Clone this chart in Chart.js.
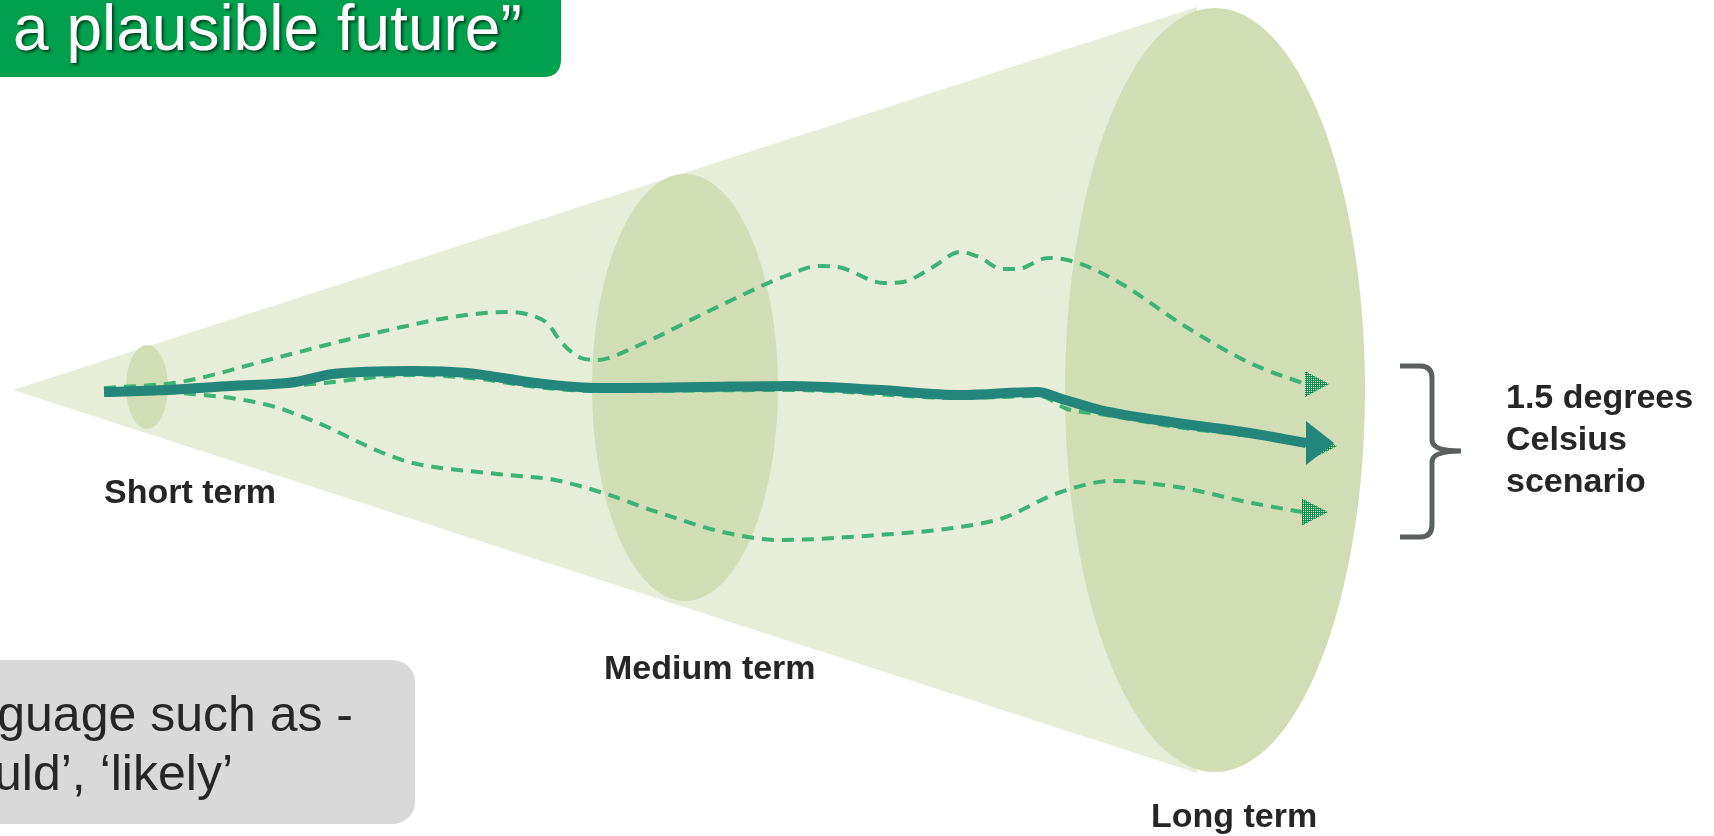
<!DOCTYPE html>
<html>
<head>
<meta charset="utf-8">
<script src="https://cdn.jsdelivr.net/npm/chart.js@4.4.1/dist/chart.umd.min.js"></script>
<style>
  html, body { margin: 0; padding: 0; background: #ffffff; overflow: hidden; }
  #wrap { width: 1714px; height: 836px; position: relative; }
</style>
</head>
<body>
<div id="wrap"><canvas id="c" width="1714" height="836"></canvas></div>
<script>
// ---------------- data (in diagram units) ----------------
const stageLabels    = ['Short term', 'Medium term', 'Long term'];
const scenarioLabel  = ['1.5 degrees', 'Celsius', 'scenario'];
const titleText      = 'a plausible future\u201D';
const noteLines      = ['guage such as -', 'uld\u2019, \u2018likely\u2019'];

// central (1.5 degrees) pathway
const mainX   = [104, 168, 230, 295, 333, 413, 467, 536, 600, 700, 790, 880, 960, 1037, 1062, 1100, 1177, 1250, 1306];
const mainY   = [392, 390, 386, 382, 374, 371, 373, 383, 388, 387, 386, 390, 395, 392, 399, 410, 423, 433, 443];
// dashed pathway hidden under the central one
const middleX = [104, 200, 300, 413, 480, 536, 600, 790, 960, 1040, 1067, 1100, 1177, 1250, 1312];
const middleY = [389, 387, 385, 375, 379, 387, 391, 390, 398, 396, 409, 414, 427, 436, 446];
// upper dashed pathway
const upperX  = [104, 180, 268, 367, 459, 509, 530, 547, 562, 581, 597, 635, 711, 788, 819, 838, 884, 903, 933, 960, 979, 1002, 1017, 1048, 1075, 1120, 1183, 1250, 1305];
const upperY  = [388, 382, 360, 335, 316, 312, 315, 323, 343, 358, 360, 347, 310, 275, 266, 267, 283, 282, 267, 252, 257, 269, 269, 258, 262, 283, 325, 363, 384];
// lower dashed pathway
const lowerX  = [104, 180, 268, 318, 383, 413, 497, 555, 600, 660, 727, 779, 878, 953, 1003, 1058, 1112, 1177, 1252, 1302];
const lowerY  = [391, 393, 405, 423, 453, 463, 474, 480, 492, 513, 533, 540, 535, 528, 518, 493, 481, 487, 503, 512];

// ---------------- styles ----------------
const MAIN_COLOR = '#24867a';
const DASH_COLOR = '#3bb372';
const CONE_COLOR = '#e6eed9';
const DISC_COLOR = '#d1ddb5';
const TEXT_COLOR = '#262626';
const FONT = '"Liberation Sans", Arial, Helvetica, sans-serif';

function pts(xs, ys) { return xs.map((x, i) => ({ x: x, y: ys[i] })); }

const canvas = document.getElementById('c');
const ctx0 = canvas.getContext('2d');

function checkerPattern(ctx) {
  const c = document.createElement('canvas');
  c.width = 4; c.height = 4;
  const g = c.getContext('2d');
  g.fillStyle = '#008f45';
  g.fillRect(0, 0, 4, 4);
  g.fillStyle = '#ffffff';
  g.fillRect(1, 1, 1, 1);
  g.fillRect(3, 3, 1, 1);
  g.fillRect(3, 1, 1, 1);
  g.fillRect(1, 3, 1, 1);
  return ctx.createPattern(c, 'repeat');
}

// geometry of the cone / discs (layout, not data)
const layoutGeom = {
  apex: [13, 390], coneTop: [1197, 7], coneBottom: [1197, 773],
  discs: [[147, 387, 21, 42], [685, 387.5, 93, 213.5], [1215, 390, 150, 382]]
};

const backdrop = {
  id: 'backdrop',
  beforeDatasetsDraw(chart) {
    const ctx = chart.ctx, sx = chart.scales.x, sy = chart.scales.y;
    const X = v => sx.getPixelForValue(v), Y = v => sy.getPixelForValue(v);
    ctx.save();
    // title box (top-left)
    ctx.fillStyle = '#00a04e';
    ctx.beginPath();
    const r = 18, bw = 561, bh = 77;
    ctx.moveTo(X(0), Y(0));
    ctx.lineTo(X(bw), Y(0));
    ctx.lineTo(X(bw), Y(bh - r));
    ctx.quadraticCurveTo(X(bw), Y(bh), X(bw - r), Y(bh));
    ctx.lineTo(X(0), Y(bh));
    ctx.closePath();
    ctx.fill();
    ctx.save();
    ctx.shadowColor = 'rgba(0,0,0,0.6)';
    ctx.shadowOffsetX = 2; ctx.shadowOffsetY = 2; ctx.shadowBlur = 3;
    ctx.fillStyle = '#ffffff';
    ctx.font = '64px ' + FONT;
    ctx.textBaseline = 'alphabetic';
    ctx.textAlign = 'left';
    ctx.fillText(titleText, X(13), Y(50));
    ctx.restore();

    // grey note box (bottom-left)
    ctx.fillStyle = '#d9d9d9';
    ctx.beginPath();
    if (ctx.roundRect) ctx.roundRect(X(-40), Y(660), 455, 164, 22);
    else ctx.rect(X(-40), Y(660), 455, 164);
    ctx.fill();
    ctx.fillStyle = TEXT_COLOR;
    ctx.font = '50px ' + FONT;
    ctx.textAlign = 'right';
    ctx.fillText(noteLines[0], X(353), Y(731));
    ctx.fillText(noteLines[1], X(233), Y(790));

    // cone
    const g = layoutGeom;
    ctx.fillStyle = CONE_COLOR;
    ctx.beginPath();
    ctx.moveTo(X(g.apex[0]), Y(g.apex[1]));
    ctx.lineTo(X(g.coneTop[0]), Y(g.coneTop[1]));
    ctx.lineTo(X(g.coneBottom[0]), Y(g.coneBottom[1]));
    ctx.closePath();
    ctx.fill();
    // discs
    ctx.fillStyle = DISC_COLOR;
    g.discs.forEach(d => {
      ctx.beginPath();
      ctx.ellipse(X(d[0]), Y(d[1]), Math.abs(X(d[2]) - X(0)), Math.abs(Y(d[3]) - Y(0)), 0, 0, Math.PI * 2);
      ctx.fill();
    });
    ctx.restore();
  }
};

const arrowSpec = [
  { ds: 2, depth: 24, half: 13, fill: 'checker' },
  { ds: 3, depth: 26, half: 13.5, fill: 'checker' },
  { ds: 1, depth: 25, half: 13, fill: 'checker' },
  { ds: 0, depth: 28, half: 22, fill: MAIN_COLOR }
];

const overlay = {
  id: 'overlay',
  afterDatasetsDraw(chart) {
    const ctx = chart.ctx, sx = chart.scales.x, sy = chart.scales.y;
    const X = v => sx.getPixelForValue(v), Y = v => sy.getPixelForValue(v);
    ctx.save();
    const pat = checkerPattern(ctx);
    arrowSpec.forEach(a => {
      const meta = chart.getDatasetMeta(a.ds);
      const last = meta.data[meta.data.length - 1];
      const bx = last.x, by = last.y;
      ctx.fillStyle = a.fill === 'checker' ? pat : a.fill;
      ctx.beginPath();
      ctx.moveTo(bx, by - a.half);
      ctx.lineTo(bx + a.depth, by);
      ctx.lineTo(bx, by + a.half);
      ctx.closePath();
      ctx.fill();
    });

    // bracket
    ctx.strokeStyle = '#5a5f60';
    ctx.lineWidth = 5;
    ctx.lineJoin = 'round';
    ctx.beginPath();
    ctx.moveTo(X(1400), Y(366));
    ctx.lineTo(X(1420), Y(366));
    ctx.quadraticCurveTo(X(1432), Y(366), X(1432), Y(378));
    ctx.lineTo(X(1432), Y(440));
    ctx.quadraticCurveTo(X(1432), Y(451), X(1461), Y(451));
    ctx.moveTo(X(1461), Y(451));
    ctx.quadraticCurveTo(X(1432), Y(451), X(1432), Y(462));
    ctx.lineTo(X(1432), Y(525));
    ctx.quadraticCurveTo(X(1432), Y(537), X(1420), Y(537));
    ctx.lineTo(X(1400), Y(537));
    ctx.stroke();

    // labels
    ctx.fillStyle = TEXT_COLOR;
    ctx.font = 'bold 34px ' + FONT;
    ctx.textAlign = 'left';
    ctx.textBaseline = 'alphabetic';
    ctx.fillText(stageLabels[0], X(104), Y(503));
    ctx.fillText(stageLabels[1], X(604), Y(679));
    ctx.fillText(stageLabels[2], X(1151), Y(827));
    scenarioLabel.forEach((t, i) => ctx.fillText(t, X(1506), Y(408 + i * 42)));
    ctx.restore();
  }
};

const dashed = { borderColor: DASH_COLOR, borderWidth: 4, borderDash: [12, 8], pointRadius: 0, cubicInterpolationMode: 'monotone', fill: false, borderCapStyle: 'butt' };

new Chart(ctx0, {
  type: 'line',
  data: {
    datasets: [
      { label: '1.5 degrees Celsius scenario', data: pts(mainX, mainY), borderColor: MAIN_COLOR, borderWidth: 10, pointRadius: 0, cubicInterpolationMode: 'monotone', fill: false, borderCapStyle: 'butt', order: 0 },
      Object.assign({ label: 'middle', data: pts(middleX, middleY), order: 1 }, dashed),
      Object.assign({ label: 'upper', data: pts(upperX, upperY), order: 2 }, dashed),
      Object.assign({ label: 'lower', data: pts(lowerX, lowerY), order: 3 }, dashed)
    ]
  },
  options: {
    responsive: false,
    animation: false,
    devicePixelRatio: 1,
    layout: { padding: 0 },
    events: [],
    plugins: { legend: { display: false }, tooltip: { enabled: false }, title: { display: false } },
    scales: {
      x: { type: 'linear', min: 0, max: 1714, display: false },
      y: { type: 'linear', min: 0, max: 836, reverse: true, display: false }
    }
  },
  plugins: [backdrop, overlay]
});
</script>
</body>
</html>
